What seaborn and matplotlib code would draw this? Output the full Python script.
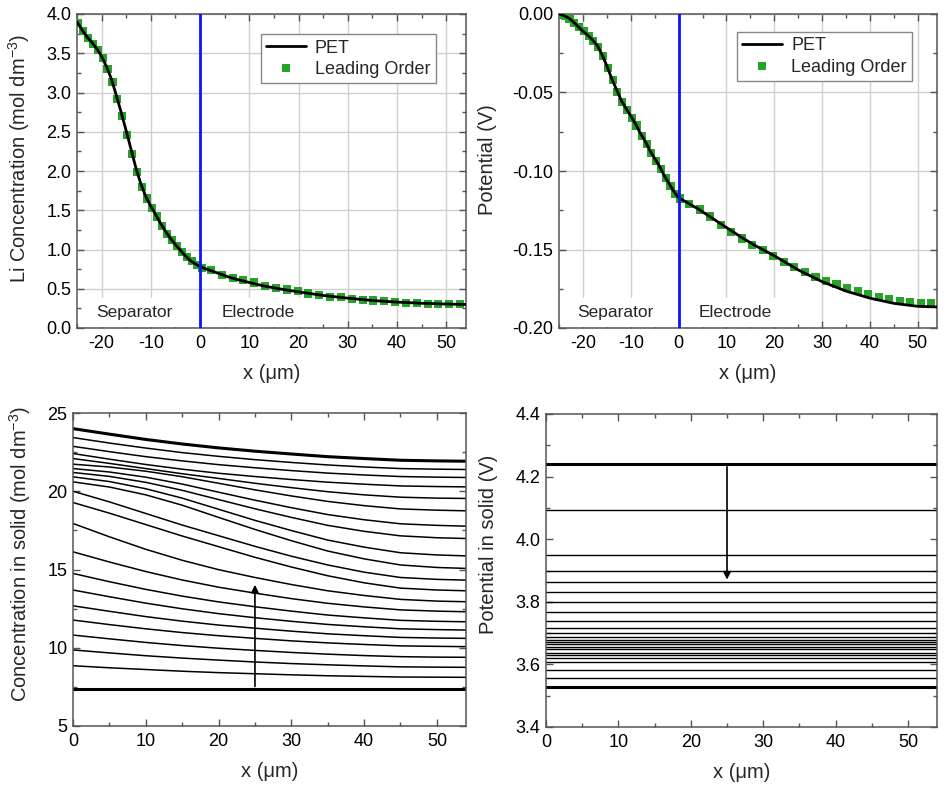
import numpy as np
import pandas as pd
import matplotlib
matplotlib.use("Agg")
import matplotlib.pyplot as plt
import seaborn as sns
from matplotlib.ticker import MultipleLocator, FormatStrFormatter
from matplotlib.lines import Line2D

sns.set_theme(style="ticks")
plt.rcParams['font.family'] = ['Liberation Sans', 'DejaVu Sans']
plt.rcParams['mathtext.fontset'] = 'custom'
plt.rcParams['mathtext.rm'] = 'Liberation Sans'
plt.rcParams['mathtext.it'] = 'Liberation Sans:italic'
plt.rcParams['axes.unicode_minus'] = False

# ---------------- data ----------------
BOUNDARY = 0.0

PET_X = [-25, -24, -23, -22, -21, -20, -19, -18, -17, -16, -15, -14, -13, -12, -11, -10,
         -9, -8, -7, -6, -5, -4, -3, -2, -1, 0, 2, 4, 6, 8, 10, 13, 16, 20, 25, 30, 35,
         40, 45, 50, 54]
PET_CONC = [3.90, 3.80, 3.71, 3.64, 3.56, 3.46, 3.33, 3.17, 2.96, 2.74, 2.51, 2.27, 2.03,
            1.83, 1.67, 1.55, 1.44, 1.33, 1.23, 1.14, 1.06, 0.99, 0.92, 0.86, 0.82, 0.78,
            0.735, 0.69, 0.645, 0.61, 0.58, 0.535, 0.50, 0.46, 0.415, 0.38, 0.35, 0.33,
            0.315, 0.305, 0.30]
PET_POT = [0.0, -0.001, -0.0025, -0.005, -0.008, -0.011, -0.0135, -0.0165, -0.020, -0.026,
           -0.033, -0.041, -0.048, -0.055, -0.060, -0.065, -0.070, -0.076, -0.081, -0.087,
           -0.092, -0.097, -0.103, -0.108, -0.113, -0.117, -0.1205, -0.124, -0.128, -0.132,
           -0.136, -0.142, -0.1475, -0.154, -0.163, -0.1705, -0.1765, -0.181, -0.1843,
           -0.1862, -0.1866]

LO_X = [-24.8, -23.8, -22.8, -21.8, -20.8, -19.8, -18.8, -17.8, -16.8, -15.8, -14.8, -13.8,
        -12.8, -11.8, -10.8, -9.8, -8.8, -7.7, -6.7, -5.7, -4.7, -3.7, -2.7, -1.7, -0.7, 0.3,
        2.2, 4.4, 6.6, 8.8, 11.0, 13.2, 15.4, 17.6, 19.8, 22.0, 24.2, 26.4, 28.6, 30.8, 33.0,
        35.2, 37.4, 39.6, 41.8, 44.0, 46.2, 48.4, 50.6, 52.8]
LO_CONC = [3.88, 3.78, 3.70, 3.62, 3.54, 3.44, 3.30, 3.13, 2.92, 2.70, 2.46, 2.22, 1.99,
           1.80, 1.65, 1.53, 1.42, 1.30, 1.20, 1.12, 1.04, 0.97, 0.90, 0.85, 0.80, 0.77,
           0.74, 0.67, 0.64, 0.61, 0.58, 0.54, 0.51, 0.49, 0.47, 0.44, 0.42, 0.40, 0.39,
           0.37, 0.36, 0.35, 0.34, 0.33, 0.32, 0.32, 0.31, 0.31, 0.31, 0.30]
LO_POT = [-0.0003, -0.0013, -0.003, -0.0055, -0.0085, -0.011, -0.014, -0.017, -0.021,
          -0.027, -0.0345, -0.042, -0.0495, -0.056, -0.061, -0.066, -0.071, -0.0775, -0.083,
          -0.0885, -0.0935, -0.099, -0.1045, -0.1095, -0.1145, -0.1175,
          -0.121, -0.1245, -0.129, -0.1345, -0.1386, -0.143, -0.147, -0.1505, -0.1543,
          -0.158, -0.161, -0.1644, -0.1675, -0.170, -0.172, -0.1743, -0.1764, -0.1785,
          -0.1802, -0.1817, -0.183, -0.1836, -0.184, -0.184]

SOLID_X = [0, 5, 10, 15, 20, 25, 30, 35, 40, 45, 50, 54]
SOLID_CONC = [
    [24.00, 23.65, 23.31, 23.02, 22.77, 22.56, 22.38, 22.21, 22.09, 21.98, 21.94, 21.92],
    [23.43, 23.08, 22.76, 22.47, 22.23, 22.02, 21.84, 21.68, 21.55, 21.45, 21.41, 21.39],
    [22.87, 22.53, 22.21, 21.94, 21.70, 21.50, 21.32, 21.16, 21.04, 20.94, 20.90, 20.88],
    [22.41, 22.05, 21.71, 21.41, 21.15, 20.94, 20.75, 20.58, 20.45, 20.34, 20.30, 20.28],
    [22.09, 21.78, 21.45, 21.12, 20.82, 20.51, 20.23, 19.97, 19.77, 19.62, 19.56, 19.54],
    [21.73, 21.55, 21.28, 20.93, 20.51, 20.09, 19.70, 19.35, 19.08, 18.87, 18.79, 18.75],
    [21.45, 21.23, 20.90, 20.46, 19.94, 19.43, 18.95, 18.51, 18.18, 17.92, 17.82, 17.77],
    [21.20, 20.95, 20.57, 20.06, 19.47, 18.88, 18.33, 17.82, 17.44, 17.15, 17.03, 16.98],
    [20.92, 20.62, 20.16, 19.56, 18.85, 18.14, 17.49, 16.88, 16.43, 16.07, 15.93, 15.87],
    [20.60, 20.27, 19.77, 19.11, 18.33, 17.56, 16.84, 16.18, 15.68, 15.29, 15.13, 15.07],
    [20.00, 19.32, 18.58, 17.84, 17.16, 16.48, 15.85, 15.29, 14.83, 14.49, 14.37, 14.32],
    [19.28, 18.60, 17.87, 17.14, 16.46, 15.78, 15.16, 14.60, 14.15, 13.81, 13.69, 13.64],
    [17.94, 17.09, 16.29, 15.59, 14.99, 14.49, 14.04, 13.64, 13.34, 13.09, 12.98, 12.94],
    [16.13, 15.48, 14.87, 14.33, 13.87, 13.49, 13.14, 12.84, 12.61, 12.42, 12.34, 12.30],
    [14.75, 14.22, 13.73, 13.30, 12.93, 12.62, 12.34, 12.09, 11.91, 11.75, 11.69, 11.66],
    [13.69, 13.26, 12.85, 12.49, 12.18, 11.92, 11.69, 11.49, 11.34, 11.21, 11.16, 11.13],
    [12.68, 12.33, 11.99, 11.70, 11.45, 11.25, 11.06, 10.89, 10.77, 10.66, 10.62, 10.60],
    [11.77, 11.48, 11.21, 10.97, 10.77, 10.60, 10.44, 10.31, 10.21, 10.12, 10.09, 10.07],
    [10.81, 10.57, 10.34, 10.14, 9.97, 9.83, 9.70, 9.59, 9.50, 9.43, 9.40, 9.39],
    [9.86, 9.67, 9.49, 9.34, 9.21, 9.09, 8.99, 8.91, 8.84, 8.78, 8.76, 8.75],
    [8.85, 8.72, 8.61, 8.50, 8.41, 8.34, 8.27, 8.21, 8.17, 8.13, 8.12, 8.11],
    [7.35, 7.35, 7.35, 7.35, 7.35, 7.35, 7.35, 7.35, 7.35, 7.35, 7.35, 7.35],
]

PHI_X = [0, 54]
PHI_LEVELS = [4.240, 4.093, 3.948, 3.900, 3.862, 3.830, 3.798, 3.768, 3.740, 3.717, 3.699,
              3.688, 3.679, 3.672, 3.664, 3.656, 3.648, 3.638, 3.629, 3.619, 3.608, 3.581,
              3.557, 3.528]

ARROW_X = 25
CONC_ARROW = (7.35, 14.2)
PHI_ARROW = (4.240, 3.862)

# ---------------- figure ----------------
W, H = 945, 809
fig = plt.figure(figsize=(W / 100, H / 100), dpi=100)


def px_axes(l, t, r, b):
    return fig.add_axes([l / W, (H - b) / H, (r - l) / W, (b - t) / H])


ax1 = px_axes(77, 14, 466, 328)
ax2 = px_axes(559, 14, 937, 328)
ax3 = px_axes(73, 413, 466, 726)
ax4 = px_axes(546, 414, 937, 727)

GREEN = '#27a327'
SPINE = '#555555'
FS_TICK = 13
FS_LAB = 14.5
FS_LEG = 13
FS_TXT = 12.5


def style(ax, xmaj, xmin, ymaj, ymin, yfmt, grid):
    ax.xaxis.set_major_locator(MultipleLocator(xmaj))
    ax.xaxis.set_minor_locator(MultipleLocator(xmin))
    ax.yaxis.set_major_locator(MultipleLocator(ymaj))
    ax.yaxis.set_minor_locator(MultipleLocator(ymin))
    ax.yaxis.set_major_formatter(FormatStrFormatter(yfmt))
    ax.xaxis.set_major_formatter(FormatStrFormatter('%d'))
    ax.tick_params(which='both', direction='in', top=True, right=True,
                   color=SPINE, labelcolor='black', labelsize=FS_TICK, width=1)
    ax.tick_params(which='major', length=5)
    ax.tick_params(axis='x', which='major', pad=5)
    ax.tick_params(axis='y', which='major', pad=4)
    ax.tick_params(which='minor', length=3)
    for s in ax.spines.values():
        s.set_color(SPINE)
        s.set_linewidth(1.1)
        s.set_visible(True)
    if grid:
        ax.grid(True, which='major', color='#d0d0d0', lw=1)
    else:
        ax.grid(False)
    ax.set_axisbelow(True)
    ax.set_xlabel('x (\u03bcm)', fontsize=FS_LAB, labelpad=9)


def place_ylabel(ax, text, xc, yc):
    ax.set_ylabel(text, fontsize=FS_LAB)
    ax.yaxis.set_label_coords(xc, yc)
    ax.yaxis.label.set_va('center')


# ---- top row ----
df_pet = pd.DataFrame({'x': PET_X, 'c': PET_CONC, 'phi': PET_POT})
df_lo = pd.DataFrame({'x': LO_X, 'c': LO_CONC, 'phi': LO_POT})

for ax, col, ylim in [(ax1, 'c', (0, 4.0)), (ax2, 'phi', (-0.20, 0.0))]:
    sns.scatterplot(data=df_lo, x='x', y=col, ax=ax, marker='s', s=34, color=GREEN,
                    edgecolor='none', zorder=3, legend=False)
    sns.lineplot(data=df_pet, x='x', y=col, ax=ax, color='black', lw=2, zorder=4,
                 estimator=None, sort=False, legend=False)
    ax.axvline(BOUNDARY, color='#0a14ff', lw=2, zorder=5)
    ax.set_ylim(*ylim)

style(ax1, 10, 5, 0.5, 0.25, '%.1f', True)
style(ax2, 10, 5, 0.05, 0.025, '%.2f', True)
ax1.set_xlim(-25, 54)
ax2.set_xlim(-25, 54)
place_ylabel(ax1, 'Li Concentration (mol dm$^{-3}$)', -0.149, 0.541)
place_ylabel(ax2, 'Potential (V)', -0.19, 0.535)

handles = [Line2D([], [], color='black', lw=2),
           Line2D([], [], color=GREEN, marker='s', ms=6, ls='none', markeredgewidth=0)]
for ax, anchor, ypos in [(ax1, (0.472, 0.936), 0.2), (ax2, (0.471, 0.943), -0.19)]:
    leg = ax.legend(handles, ['PET', 'Leading Order'], loc='upper left',
                    bbox_to_anchor=anchor, borderaxespad=0, fontsize=FS_LEG,
                    fancybox=False, framealpha=1, edgecolor='#888888',
                    handlelength=2.2, handletextpad=0.5, borderpad=0.3,
                    labelspacing=0.25)
    leg.get_frame().set_linewidth(1)
    leg.set_zorder(10)
    for x, txt in [(-13.3, 'Separator'), (11.8, 'Electrode')]:
        ax.text(x, ypos, txt, ha='center', va='center', fontsize=FS_TXT, zorder=2,
                bbox=dict(facecolor='white', edgecolor='none', pad=5))

# ---- bottom left ----
rows = []
for i, curve in enumerate(SOLID_CONC):
    for x, v in zip(SOLID_X, curve):
        rows.append({'x': x, 'c': v, 'curve': i})
df_solid = pd.DataFrame(rows)
n = len(SOLID_CONC)
mid = df_solid[(df_solid.curve > 0) & (df_solid.curve < n - 1)]
sns.lineplot(data=mid, x='x', y='c', units='curve', estimator=None, ax=ax3,
             color='black', lw=1.1, legend=False)
sns.lineplot(data=df_solid[df_solid.curve.isin([0, n - 1])], x='x', y='c', units='curve',
             estimator=None, ax=ax3, color='black', lw=2.2, legend=False)
ax3.annotate('', xy=(ARROW_X, CONC_ARROW[1]), xytext=(ARROW_X, CONC_ARROW[0]),
             arrowprops=dict(arrowstyle='-|>', color='black', lw=1.2, mutation_scale=11))
ax3.set_ylim(5, 25)
style(ax3, 10, 5, 5, 2.5, '%d', False)
ax3.set_xlim(0, 54)
place_ylabel(ax3, 'Concentration in solid (mol dm$^{-3}$)', -0.135, 0.55)

# ---- bottom right ----
rows = []
for i, lev in enumerate(PHI_LEVELS):
    for x in PHI_X:
        rows.append({'x': x, 'phi': lev, 'line': i})
df_phi = pd.DataFrame(rows)
m = len(PHI_LEVELS)
sns.lineplot(data=df_phi[(df_phi.line > 0) & (df_phi.line < m - 1)], x='x', y='phi',
             units='line', estimator=None, ax=ax4, color='black', lw=1.0, legend=False)
sns.lineplot(data=df_phi[df_phi.line.isin([0, m - 1])], x='x', y='phi', units='line',
             estimator=None, ax=ax4, color='black', lw=2.2, legend=False)
ax4.annotate('', xy=(ARROW_X, PHI_ARROW[1]), xytext=(ARROW_X, PHI_ARROW[0]),
             arrowprops=dict(arrowstyle='-|>', color='black', lw=1.2, mutation_scale=11))
ax4.set_ylim(3.4, 4.4)
style(ax4, 10, 5, 0.2, 0.1, '%.1f', False)
ax4.set_xlim(0, 54)
place_ylabel(ax4, 'Potential in solid (V)', -0.146, 0.585)

fig.savefig('out.png', dpi=100)
